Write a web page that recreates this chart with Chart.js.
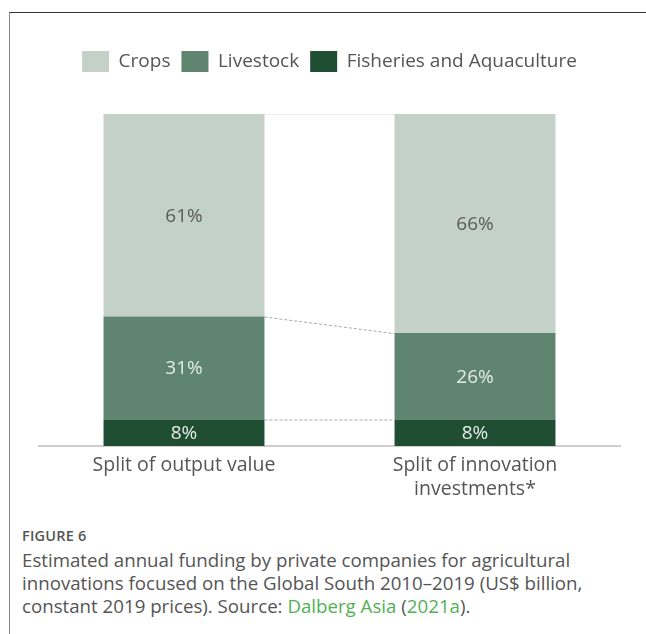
<!DOCTYPE html>
<html lang="en">
<head>
<meta charset="UTF-8">
<title>Figure 6</title>
<script src="https://cdn.jsdelivr.net/npm/chart.js"></script>
<style>
    body { margin: 0; width: 646px; height: 634px; background: #fff; position: relative; overflow: hidden; font-family: "Open Sans", sans-serif; }
    .moldura { position: absolute; left: 9px; top: 12px; right: -2px; bottom: -2px; border-top: 1px solid #333; border-left: 1px solid #8a8a8a; }
    #grafico { position: absolute; left: 0; top: 0; }
    .legenda { position: absolute; left: 22px; top: 526px; color: #555; }
    .legenda .fig { font-size: 14.5px; font-weight: 600; letter-spacing: 0.2px; margin-bottom: 3px; }
    .legenda .texto { font-size: 18.7px; line-height: 23px; }
    .legenda a { color: #52b152; text-decoration: none; }
</style>
</head>
<body>
<div class="moldura"></div>
<canvas id="grafico" width="646" height="520"></canvas>
<div class="legenda">
    <div class="fig">FIGURE 6</div>
    <div class="texto">Estimated annual funding by private companies for agricultural<br>innovations focused on the Global South 2010–2019 (US$ billion,<br>constant 2019 prices). Source: <a>Dalberg Asia</a> (<a>2021a</a>).</div>
</div>
<script>
    // dados
    const categorias = ['Split of output value', ['Split of innovation', 'investments*']];
    const nomes = ['Crops', 'Livestock', 'Fisheries and Aquaculture'];
    const crops = [61, 66];
    const livestock = [31, 26];
    const fisheries = [8, 8];

    const fonte = '"Open Sans", sans-serif';

    // rotulos de % no meio de cada bloco
    const rotulos = {
        id: 'rotulos',
        afterDatasetsDraw(chart) {
            const ctx = chart.ctx;
            ctx.save();
            ctx.font = '19px ' + fonte;
            ctx.textAlign = 'center';
            ctx.textBaseline = 'middle';
            chart.data.datasets.forEach((ds, i) => {
                chart.getDatasetMeta(i).data.forEach((bar, j) => {
                    ctx.fillStyle = ds.corTexto;
                    ctx.fillText(ds.data[j] + '%', bar.x, (bar.y + bar.base) / 2 + 1);
                });
            });
            ctx.restore();
        }
    };

    // linhas tracejadas ligando as barras
    const ligacoes = {
        id: 'ligacoes',
        afterDatasetsDraw(chart) {
            const ctx = chart.ctx;
            ctx.save();
            ctx.lineWidth = 1;
            chart.data.datasets.forEach((ds, i) => {
                const barras = chart.getDatasetMeta(i).data;
                const a = barras[0], b = barras[1];
                ctx.strokeStyle = i == 2 ? '#dcdcdc' : '#a8a8a8';
                ctx.setLineDash(i == 2 ? [2, 2] : [3, 2]);
                ctx.beginPath();
                ctx.moveTo(a.x + a.width / 2, a.y + 0.5);
                ctx.lineTo(b.x - b.width / 2, b.y + 0.5);
                ctx.stroke();
            });
            ctx.restore();
        }
    };

    // espaco extra abaixo da legenda
    const espacoLegenda = {
        id: 'espacoLegenda',
        beforeLayout(chart) {
            const lg = chart.legend;
            if (lg && !lg._ajustada) {
                const fitOriginal = lg.fit;
                lg.fit = function () {
                    fitOriginal.call(this);
                    this.height += 32;
                };
                lg._ajustada = true;
            }
        }
    };

    const ctx = document.getElementById('grafico');

    new Chart(ctx, {
        type: 'bar',
        data: {
            labels: categorias,
            datasets: [
                { label: nomes[2], data: fisheries, backgroundColor: '#1f4e33', corTexto: '#e4ece6' },
                { label: nomes[1], data: livestock, backgroundColor: '#5f8470', corTexto: '#e4ece6' },
                { label: nomes[0], data: crops, backgroundColor: '#c3d1c9', corTexto: '#5a5a5a' }
            ]
        },
        options: {
            responsive: false,
            animation: false,
            barPercentage: 1,
            categoryPercentage: 0.553,
            layout: { padding: { left: 38.5, right: 25.5, top: 40, bottom: 0 } },
            plugins: {
                legend: {
                    reverse: true,
                    labels: {
                        boxWidth: 27,
                        boxHeight: 21,
                        padding: 11,
                        color: '#555',
                        font: { size: 19, family: fonte }
                    }
                },
                tooltip: { enabled: false }
            },
            scales: {
                x: {
                    stacked: true,
                    grid: { display: false, drawTicks: false },
                    border: { color: '#cfcfcf', width: 2 },
                    ticks: { color: '#555', padding: 8, font: { size: 19.5, family: fonte } },
                    afterFit: function (escala) { escala.height = 74; }
                },
                y: { stacked: true, display: false, min: 0, max: 100 }
            }
        },
        plugins: [rotulos, ligacoes, espacoLegenda]
    });
</script>
</body>
</html>
